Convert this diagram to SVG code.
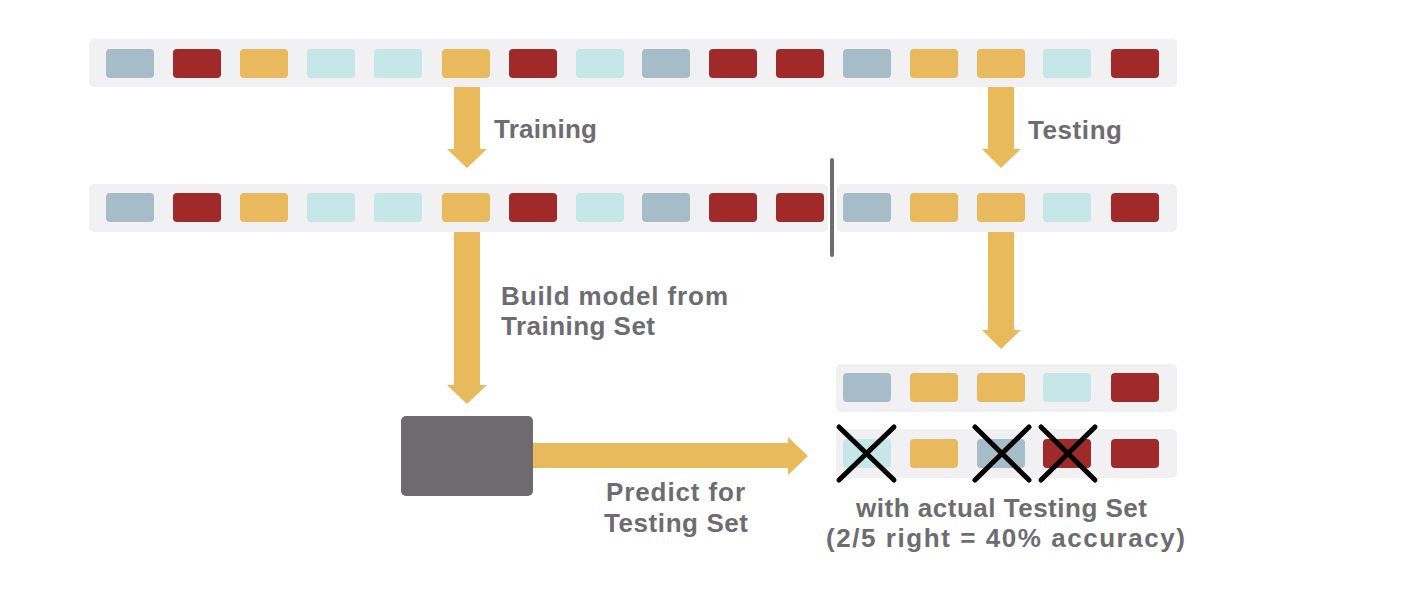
<svg xmlns="http://www.w3.org/2000/svg" width="1422" height="602" viewBox="0 0 1422 602">
  <style>
    .bar { fill: #f1f1f3; }
    .b { fill: #a7bcc9; }
    .r { fill: #a0292a; }
    .y { fill: #e8b95d; }
    .c { fill: #c5e7e8; }
    .arrow { fill: #e8ba5c; }
    .lbl { font-family: "Liberation Sans", Arial, sans-serif; font-weight: bold; font-size: 26px; fill: #6d6c70; }
    .x { stroke: #000; stroke-width: 5; stroke-linecap: round; fill: none; }
  </style>
  <defs>
    <rect id="s" width="48" height="29" rx="4"/>
  </defs>
  <rect width="1422" height="602" fill="#ffffff"/>

  <g id="full-dataset">
    <rect class="bar" x="89" y="39" width="1088" height="48" rx="5"/>
    <use href="#s" class="b" x="106" y="49"/>
    <use href="#s" class="r" x="173" y="49"/>
    <use href="#s" class="y" x="240" y="49"/>
    <use href="#s" class="c" x="307" y="49"/>
    <use href="#s" class="c" x="374" y="49"/>
    <use href="#s" class="y" x="442" y="49"/>
    <use href="#s" class="r" x="509" y="49"/>
    <use href="#s" class="c" x="576" y="49"/>
    <use href="#s" class="b" x="642" y="49"/>
    <use href="#s" class="r" x="709" y="49"/>
    <use href="#s" class="r" x="776" y="49"/>
    <use href="#s" class="b" x="843" y="49"/>
    <use href="#s" class="y" x="910" y="49"/>
    <use href="#s" class="y" x="977" y="49"/>
    <use href="#s" class="c" x="1043" y="49"/>
    <use href="#s" class="r" x="1111" y="49"/>
  </g>

  <g id="training-set">
    <rect class="bar" x="89" y="184" width="739" height="48" rx="5"/>
    <use href="#s" class="b" x="106" y="193"/>
    <use href="#s" class="r" x="173" y="193"/>
    <use href="#s" class="y" x="240" y="193"/>
    <use href="#s" class="c" x="307" y="193"/>
    <use href="#s" class="c" x="374" y="193"/>
    <use href="#s" class="y" x="442" y="193"/>
    <use href="#s" class="r" x="509" y="193"/>
    <use href="#s" class="c" x="576" y="193"/>
    <use href="#s" class="b" x="642" y="193"/>
    <use href="#s" class="r" x="709" y="193"/>
    <use href="#s" class="r" x="776" y="193"/>
  </g>

  <g id="split-divider">
    <line x1="832" y1="160" x2="832" y2="255" stroke="#6d6c70" stroke-width="4" stroke-linecap="round"/>
  </g>

  <g id="testing-set">
    <rect class="bar" x="837" y="184" width="340" height="48" rx="5"/>
    <use href="#s" class="b" x="843" y="193"/>
    <use href="#s" class="y" x="910" y="193"/>
    <use href="#s" class="y" x="977" y="193"/>
    <use href="#s" class="c" x="1043" y="193"/>
    <use href="#s" class="r" x="1111" y="193"/>
  </g>

  <g id="actual-testing-set">
    <rect class="bar" x="836" y="364" width="341" height="48" rx="5"/>
    <use href="#s" class="b" x="843" y="373"/>
    <use href="#s" class="y" x="910" y="373"/>
    <use href="#s" class="y" x="977" y="373"/>
    <use href="#s" class="c" x="1043" y="373"/>
    <use href="#s" class="r" x="1111" y="373"/>
  </g>

  <g id="predicted-set">
    <rect class="bar" x="836" y="429" width="341" height="49" rx="5"/>
    <use href="#s" class="c" x="843" y="439"/>
    <use href="#s" class="y" x="910" y="439"/>
    <use href="#s" class="b" x="977" y="439"/>
    <use href="#s" class="r" x="1043" y="439"/>
    <use href="#s" class="r" x="1111" y="439"/>
    <path class="x" d="M839 427 L894 480 M894 427 L839 480"/>
    <path class="x" d="M975 427 L1029 480 M1029 427 L975 480"/>
    <path class="x" d="M1041 427 L1095 480 M1095 427 L1041 480"/>
  </g>

  <g id="model">
    <rect x="401" y="416" width="132" height="80" rx="5" fill="#6d6b70"/>
  </g>

  <g id="connectors">
    <polygon class="arrow" points="454,87 480,87 480,149 487,149 467,168 447,149 454,149"/>
    <polygon class="arrow" points="988,87 1014,87 1014,149 1021,149 1001,168 982,149 988,149"/>
    <polygon class="arrow" points="454,232 480,232 480,385 487,385 467,404 447,385 454,385"/>
    <polygon class="arrow" points="988,232 1014,232 1014,330 1021,330 1001,349 982,330 988,330"/>
    <polygon class="arrow" points="533,443 788,443 788,437 808,456 788,475 788,468 533,468"/>
  </g>

  <g id="labels">
    <text class="lbl" x="494" y="138" textLength="103" lengthAdjust="spacing">Training</text>
    <text class="lbl" x="1028" y="139" textLength="94" lengthAdjust="spacing">Testing</text>
    <text class="lbl" x="501" y="305" textLength="227" lengthAdjust="spacing">Build model from</text>
    <text class="lbl" x="501" y="335" textLength="154" lengthAdjust="spacing">Training Set</text>
    <text class="lbl" x="606" y="501" textLength="139" lengthAdjust="spacing">Predict for</text>
    <text class="lbl" x="604" y="532" textLength="144" lengthAdjust="spacing">Testing Set</text>
    <text class="lbl" x="856" y="517" textLength="291" lengthAdjust="spacing">with actual Testing Set</text>
    <text class="lbl" x="826" y="547" textLength="359" lengthAdjust="spacing">(2/5 right = 40% accuracy)</text>
  </g>
</svg>
